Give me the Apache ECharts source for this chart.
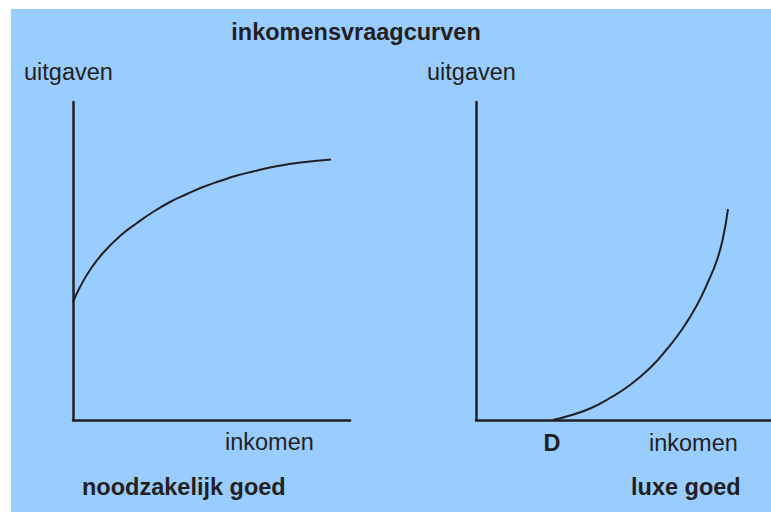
<!DOCTYPE html>
<html>
<head>
<meta charset="utf-8">
<script src="https://cdn.jsdelivr.net/npm/echarts@6/dist/echarts.min.js"></script>
<style>
  html, body { margin: 0; padding: 0; background: #ffffff; }
  #chart { width: 771px; height: 512px; }
</style>
</head>
<body>
<div id="chart"></div>
<script>
const necessityIncome = [0, 7, 17, 30, 47, 64, 80, 97, 114, 130, 147, 164, 180, 197, 214, 230, 258];
const necessitySpend  = [118, 133, 150, 167, 184, 197, 208, 218, 226, 233, 239, 244.5, 248.5, 252.5, 255.5, 257.8, 260.5];
const luxuryIncome = [77, 94, 114, 134, 154, 174, 191, 207, 221, 232, 241, 247, 252];
const luxurySpend  = [0, 4.5, 11.5, 22, 35, 52, 71, 92, 115, 138, 160, 182, 211];

const titleText = 'inkomensvraagcurven';
const yName = 'uitgaven';
const xName = 'inkomen';
const pointLabel = 'D';
const panelNames = ['noodzakelijk goed', 'luxe goed'];

const ink = '#231f20';
const font = '"Liberation Sans", Arial, sans-serif';

const chart = echarts.init(document.getElementById('chart'), null, { renderer: 'svg' });

const axisStyle = { lineStyle: { color: ink, width: 2.5 } };

const makeX = (gridIndex, max) => ({
  type: 'value', gridIndex, min: 0, max,
  axisLine: { show: true, onZero: false, ...axisStyle },
  axisTick: { show: false }, axisLabel: { show: false }, splitLine: { show: false }
});
const makeY = (gridIndex) => ({
  type: 'value', gridIndex, min: 0, max: 318,
  axisLine: { show: true, onZero: false, ...axisStyle },
  axisTick: { show: false }, axisLabel: { show: false }, splitLine: { show: false }
});

const label = (text, x, y, opts = {}) => ({
  type: 'text', x, y,
  style: {
    text, fill: ink, font: `${opts.bold ? 'bold ' : ''}23.5px ${font}`,
    align: opts.align || 'left', verticalAlign: 'middle'
  }
});

chart.setOption({
  animation: false,
  backgroundColor: '#ffffff',
  grid: [
    { left: 73, top: 102, width: 277, height: 318 },
    { left: 476, top: 102, width: 295, height: 318 }
  ],
  xAxis: [makeX(0, 277), makeX(1, 295)],
  yAxis: [makeY(0), makeY(1)],
  series: [
    {
      type: 'line', xAxisIndex: 0, yAxisIndex: 0, smooth: 0.5, showSymbol: false,
      data: necessityIncome.map((x, i) => [x, necessitySpend[i]]),
      lineStyle: { color: ink, width: 2 }
    },
    {
      type: 'line', xAxisIndex: 1, yAxisIndex: 1, smooth: 0.5, showSymbol: false,
      data: luxuryIncome.map((x, i) => [x, luxurySpend[i]]),
      lineStyle: { color: ink, width: 2 }
    }
  ],
  graphic: [
    { type: 'rect', z: -10, shape: { x: 11, y: 9, width: 760, height: 503 }, style: { fill: '#99ccff' } },
    label(titleText, 356, 32, { bold: true, align: 'center' }),
    label(yName, 24, 72),
    label(yName, 427, 72),
    label(xName, 225, 442),
    label(xName, 649, 443),
    label(pointLabel, 552, 443, { bold: true, align: 'center' }),
    label(panelNames[0], 82, 487, { bold: true }),
    label(panelNames[1], 631, 487, { bold: true })
  ]
});
</script>
</body>
</html>
